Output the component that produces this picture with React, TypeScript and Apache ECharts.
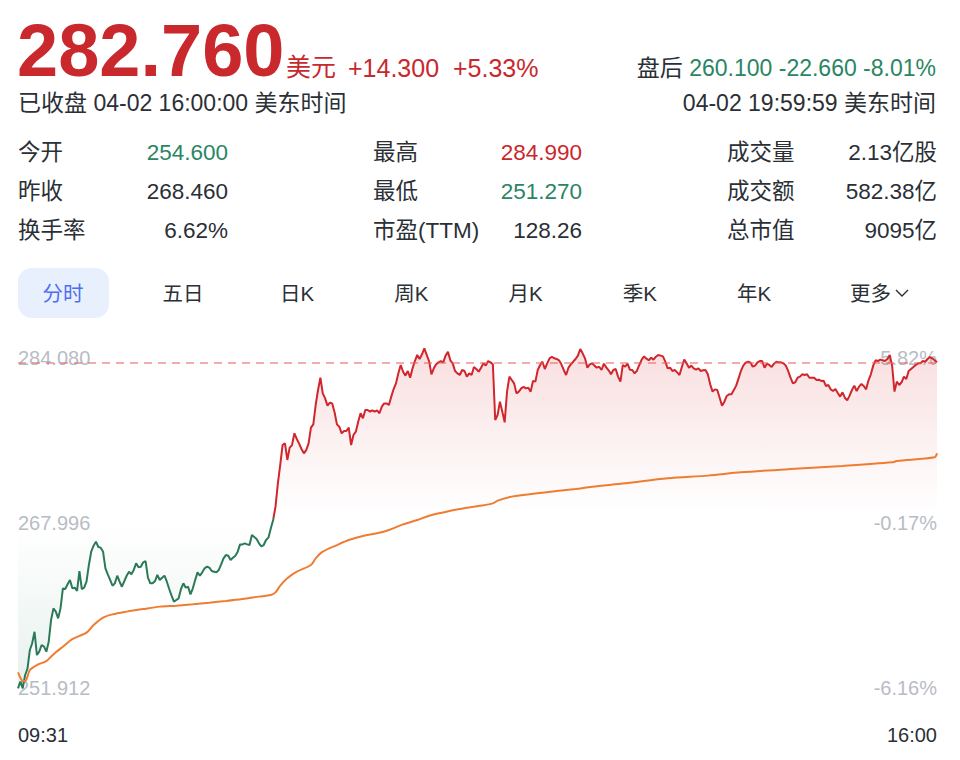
import * as echarts from "echarts";
import { useEffect, useRef } from "react";

const FONT = '"Liberation Sans", Arial, "Noto Sans CJK SC", sans-serif';
const RED = "#c9282d";
const GREEN = "#2b8563";
const DARK = "#2b2f36";
const AXIS_GREY = "#b8bcc5";

const prevClose = 268.46;
const lastPrice = 282.76;
const axisMin = 251.912;
const axisMax = 284.08;
const axisTicks = [251.912, 267.996, 284.08];

// one price per minute, 09:31 .. 16:00
const prices = [
  252.8, 253.41, 252.8, 254.0, 254.6, 256.3, 256.94, 258.0, 255.86, 256.17,
  256.78, 256.63, 256.17, 257.09, 259.08, 260.15, 259.85, 259.23, 260.15, 261.99,
  261.93, 262.36, 262.76, 261.99, 262.05, 261.75, 263.58, 261.93, 262.05, 262.6,
  264.14, 265.36, 265.91, 266.28, 265.79, 265.73, 265.36, 263.83, 263.28, 262.76,
  262.23, 262.45, 263.15, 262.6, 262.14, 262.66, 263.15, 263.52, 263.28, 263.68,
  264.29, 263.92, 263.98, 264.38, 264.5, 262.97, 262.45, 262.45, 262.66, 263.22,
  262.76, 262.97, 263.15, 262.6, 261.93, 261.32, 260.76, 260.92, 261.07, 261.93,
  262.45, 262.05, 262.14, 261.44, 261.99, 262.76, 263.46, 263.15, 263.46, 263.83,
  263.98, 263.89, 263.58, 263.52, 263.46, 263.68, 264.2, 264.75, 265.05, 264.99,
  264.59, 264.81, 264.99, 265.36, 266.03, 266.03, 266.13, 266.03, 265.97, 266.89,
  266.71, 266.53, 266.13, 265.85, 265.97, 266.43, 266.65, 267.5, 268.27, 269.5,
  271.64, 273.33, 275.16, 275.32, 273.79, 274.92, 275.16, 276.24, 275.72, 275.29,
  274.8, 274.4, 274.7, 275.32, 276.76, 277.06, 278.84, 280.22, 281.35, 279.91,
  279.45, 278.78, 279.05, 278.99, 278.17, 277.06, 276.85, 276.24, 276.45, 276.45,
  276.76, 275.16, 276.08, 276.39, 277.31, 278.08, 277.62, 278.38, 278.38, 278.23,
  278.35, 278.23, 278.35, 278.08, 278.69, 278.99, 278.99, 278.84, 279.61, 280.31,
  280.83, 281.75, 282.52, 281.9, 281.54, 281.97, 281.35, 282.21, 282.88, 283.44,
  283.07, 283.5, 284.05, 283.44, 282.88, 281.66, 282.21, 282.58, 282.76, 282.88,
  282.76, 283.38, 283.74, 282.95, 282.67, 281.97, 281.75, 281.6, 282.06, 281.97,
  281.45, 281.75, 281.6, 282.33, 282.15, 281.9, 282.27, 282.67, 282.46, 282.88,
  282.76, 282.58, 277.46, 277.92, 279.15, 278.23, 277.25, 280.07, 281.45, 281.14,
  280.83, 279.91, 280.07, 280.37, 280.5, 280.37, 280.43, 280.07, 281.05, 280.99,
  282.06, 282.52, 282.82, 282.15, 282.67, 283.13, 283.28, 283.13, 283.07, 282.95,
  282.58, 282.06, 281.6, 282.27, 282.58, 282.82, 283.07, 283.38, 283.99, 283.59,
  283.13, 282.27, 282.58, 282.67, 282.46, 282.27, 282.36, 282.06, 282.64, 282.3,
  282.03, 281.66, 282.06, 282.15, 281.45, 280.99, 282.52, 282.36, 282.64, 282.09,
  282.06, 281.75, 281.99, 282.52, 283.01, 283.31, 283.1, 282.95, 283.19, 283.01,
  283.28, 283.44, 283.38, 283.31, 282.82, 282.21, 282.27, 281.97, 282.06, 281.84,
  281.6, 282.33, 283.01, 282.67, 282.27, 282.46, 282.21, 282.09, 282.21, 281.97,
  282.03, 282.06, 281.66, 280.74, 280.07, 280.28, 280.22, 279.51, 278.78, 279.15,
  279.67, 279.82, 279.82, 280.22, 280.62, 281.29, 281.97, 282.46, 282.73, 282.82,
  282.76, 282.36, 282.46, 282.76, 282.88, 282.88, 282.27, 282.64, 282.52, 282.33,
  282.64, 282.82, 282.76, 282.76, 282.67, 282.46, 281.97, 281.35, 280.83, 280.93,
  281.35, 281.45, 281.66, 281.6, 281.66, 281.35, 281.35, 281.35, 281.14, 281.17,
  281.05, 281.08, 280.59, 280.68, 280.28, 280.13, 280.31, 279.94, 279.61, 280.01,
  279.51, 279.27, 279.7, 280.22, 280.62, 280.13, 280.53, 280.77, 280.59, 280.28,
  281.11, 281.66, 282.46, 282.95, 282.88, 283.01, 282.95, 282.88, 283.07, 283.44,
  282.46, 280.07, 280.99, 280.68, 280.93, 281.45, 281.23, 281.97, 282.15, 282.33,
  282.52, 282.67, 282.67, 282.88, 282.82, 283.07, 283.25, 283.13, 282.95, 282.76,
];

// average price line, read at these minute indexes
const avgMinutes = [
  0, 1, 2, 3, 4, 5, 8, 12, 14, 16, 19, 23, 29, 32, 36, 40, 46, 53, 60, 67,
  74, 81, 88, 95, 102, 107, 109, 111, 114, 118, 124, 126, 129, 135, 140, 146, 152, 157, 163, 169,
  174, 180, 187, 195, 201, 203, 209, 222, 236, 243, 257, 275, 292, 306, 327, 349, 370, 372, 388, 389,
];
const avgPrices = [
  254.27, 253.78, 253.47, 253.47, 253.87, 254.48, 254.94, 255.31, 255.71, 256.11,
  256.63, 257.33, 257.92, 258.62, 259.3, 259.6, 259.85, 260.09, 260.31, 260.4,
  260.52, 260.67, 260.83, 261.01, 261.23, 261.38, 261.62, 262.24, 262.91, 263.52,
  264.14, 264.75, 265.36, 265.97, 266.43, 266.8, 267.05, 267.35, 267.87, 268.27,
  268.67, 268.97, 269.28, 269.56, 269.8, 270.05, 270.42, 270.78, 271.12, 271.33,
  271.64, 272.1, 272.35, 272.65, 272.96, 273.24, 273.57, 273.69, 274.03, 274.4,
];

const headline = { price: "282.760", unit: "美元", change: "+14.300", pct: "+5.33%" };
const afterHours = { label: "盘后", quote: "260.100 -22.660 -8.01%" };
const closedLine = "已收盘 04-02 16:00:00 美东时间";
const afterLine = "04-02 19:59:59 美东时间";

const statLabels = [
  ["今开", "昨收", "换手率"],
  ["最高", "最低", "市盈(TTM)"],
  ["成交量", "成交额", "总市值"],
];
const statValues = [
  ["254.600", "268.460", "6.62%"],
  ["284.990", "251.270", "128.26"],
  ["2.13亿股", "582.38亿", "9095亿"],
];
const statTones = [
  ["down", "flat", "flat"],
  ["up", "down", "flat"],
  ["flat", "flat", "flat"],
];

const tabs = ["分时", "五日", "日K", "周K", "月K", "季K", "年K"];
const moreTab = "更多";

const minuteLabels = prices.map((_, i) => {
  const m = 9 * 60 + 31 + i;
  return `${String(Math.floor(m / 60)).padStart(2, "0")}:${String(m % 60).padStart(2, "0")}`;
});

const toneColor = (t: string) => (t === "up" ? RED : t === "down" ? GREEN : DARK);

const txt = (
  text: string,
  x: number,
  y: number,
  size: number,
  fill: string,
  align = "left",
  weight = "normal"
) => ({
  type: "text",
  x,
  y,
  silent: true,
  style: {
    text,
    fill,
    fontSize: size,
    fontWeight: weight,
    fontFamily: FONT,
    align,
    verticalAlign: "middle",
  },
});

const buildGraphics = () => {
  const g: any[] = [
    txt(headline.price, 17, 50, 74, RED, "left", "bold"),
    txt(headline.unit, 286, 67, 25, RED),
    txt(headline.change, 348, 68, 25, RED),
    txt(headline.pct, 453, 68, 25, RED),
    {
      type: "text",
      x: 936,
      y: 68,
      silent: true,
      style: {
        text: `{a|${afterHours.label} }{b|${afterHours.quote}}`,
        align: "right",
        verticalAlign: "middle",
        fontFamily: FONT,
        fontSize: 23,
        rich: {
          a: { fill: DARK, fontSize: 23, fontFamily: FONT },
          b: { fill: GREEN, fontSize: 23, fontFamily: FONT },
        },
      },
    },
    txt(closedLine, 18, 103, 23, DARK),
    txt(afterLine, 936, 103, 23, DARK, "right"),
  ];

  const labelX = [18, 373, 727];
  const valueX = [228, 582, 937];
  const rowY = [152, 191, 230];
  statLabels.forEach((col, c) =>
    col.forEach((label, r) => {
      g.push(txt(label, labelX[c], rowY[r], 22.5, DARK));
      g.push(txt(statValues[c][r], valueX[c], rowY[r], 22.5, toneColor(statTones[c][r]), "right"));
    })
  );

  g.push({
    type: "rect",
    silent: true,
    shape: { x: 18, y: 268, width: 91, height: 50, r: 14 },
    style: { fill: "#e8f0fd" },
  });
  tabs.forEach((t, i) => {
    const cx = i === 0 ? 63 : 183 + (i - 1) * 114.2;
    g.push(txt(t, cx, 293, 20.5, i === 0 ? "#4d6ef0" : DARK, "center"));
  });
  g.push(txt(moreTab, 850, 293, 20.5, DARK));
  g.push({
    type: "polyline",
    silent: true,
    shape: { points: [[896, 290], [902, 296], [908, 290]] },
    style: { stroke: DARK, lineWidth: 1.4, fill: null },
  });
  return g;
};

export default function App() {
  const chartRef = useRef<HTMLDivElement>(null);

  useEffect(() => {
    const chart = echarts.init(chartRef.current!, null, { renderer: "svg" });
    const last = minuteLabels.length - 1;
    chart.setOption({
      animation: false,
      backgroundColor: "#ffffff",
      textStyle: { fontFamily: FONT },
      grid: { left: 18, right: 23, top: 348, bottom: 62, containLabel: false, outerBoundsMode: "none" },
      xAxis: {
        type: "category",
        data: minuteLabels,
        boundaryGap: false,
        axisLine: { show: false },
        axisTick: { show: false },
        splitLine: { show: false },
        axisLabel: {
          interval: (i: number) => i === 0 || i === last,
          color: DARK,
          fontSize: 20,
          margin: 27,
          alignMinLabel: "left",
          alignMaxLabel: "right",
        },
      },
      yAxis: [
        {
          type: "value",
          position: "left",
          min: axisMin,
          max: axisMax,
          splitLine: { show: false },
          axisLine: { show: false },
          axisTick: { show: false, customValues: axisTicks },
          axisLabel: {
            inside: true,
            margin: 0,
            customValues: axisTicks,
            formatter: (v: number) => v.toFixed(3),
            color: AXIS_GREY,
            fontSize: 20,
            verticalAlignMinLabel: "bottom",
            verticalAlignMaxLabel: "top",
          },
        },
        {
          type: "value",
          position: "right",
          min: axisMin,
          max: axisMax,
          splitLine: { show: false },
          axisLine: { show: false },
          axisTick: { show: false, customValues: axisTicks },
          axisLabel: {
            inside: true,
            margin: 0,
            customValues: axisTicks,
            formatter: (v: number) => `${(((v - prevClose) / prevClose) * 100).toFixed(2)}%`,
            color: AXIS_GREY,
            fontSize: 20,
            verticalAlignMinLabel: "bottom",
            verticalAlignMaxLabel: "top",
          },
        },
      ],
      visualMap: {
        show: false,
        type: "piecewise",
        seriesIndex: 0,
        dimension: 1,
        pieces: [
          { gt: prevClose, lte: 1000, color: "#d0262c" },
          { gt: 0, lte: prevClose, color: "#2a7a58" },
        ],
      },
      series: [
        {
          name: "价格",
          type: "line",
          data: prices,
          showSymbol: false,
          symbol: "none",
          z: 3,
          lineStyle: { width: 2 },
          areaStyle: {
            origin: prevClose,
            color: new echarts.graphic.LinearGradient(0, 0, 0, 1, [
              { offset: 0, color: "rgba(215,45,50,0.22)" },
              { offset: 0.48, color: "rgba(215,45,50,0)" },
              { offset: 0.52, color: "rgba(40,130,95,0)" },
              { offset: 1, color: "rgba(40,130,95,0.16)" },
            ]),
          },
          markLine: {
            silent: true,
            symbol: "none",
            label: { show: false },
            lineStyle: { color: "rgba(232,96,96,0.7)", type: [8, 6], width: 1.5 },
            data: [{ yAxis: lastPrice }],
          },
        },
        {
          name: "均价",
          type: "line",
          data: avgMinutes.map((m, k) => [m, avgPrices[k]]),
          showSymbol: false,
          symbol: "none",
          smooth: 0.3,
          z: 4,
          itemStyle: { color: "#ee7d31" },
          lineStyle: { color: "#ee7d31", width: 2 },
        },
      ],
      graphic: buildGraphics(),
    });
    return () => chart.dispose();
  }, []);

  return (
    <div
      ref={chartRef}
      style={{ position: "absolute", left: 0, top: 0, width: 960, height: 760 }}
    />
  );
}
